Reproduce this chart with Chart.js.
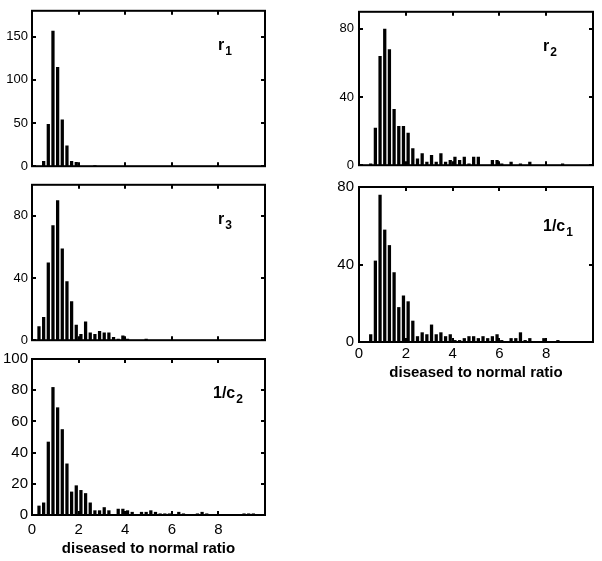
<!DOCTYPE html>
<html lang="en">
<head>
<meta charset="UTF-8">
<title>diseased to normal ratio</title>
<script src="https://cdn.jsdelivr.net/npm/chart.js"></script>
<style>
  body { margin: 0; background: #fff; width: 602px; height: 561px; position: relative; overflow: hidden; }
  .panel { position: absolute; }
</style>
</head>
<body>
<div class="panel" id="p_r1"><canvas id="c_r1"></canvas></div>
<div class="panel" id="p_r3"><canvas id="c_r3"></canvas></div>
<div class="panel" id="p_c2"><canvas id="c_c2"></canvas></div>
<div class="panel" id="p_r2"><canvas id="c_r2"></canvas></div>
<div class="panel" id="p_c1"><canvas id="c_c1"></canvas></div>
<script>
// bin centres of the histograms (bin width 0.2)
const binCenters = [0.1, 0.3, 0.5, 0.7, 0.9, 1.1, 1.3, 1.5, 1.7, 1.9,
                    2.1, 2.3, 2.5, 2.7, 2.9, 3.1, 3.3, 3.5, 3.7, 3.9,
                    4.1, 4.3, 4.5, 4.7, 4.9, 5.1, 5.3, 5.5, 5.7, 5.9,
                    6.1, 6.3, 6.5, 6.7, 6.9, 7.1, 7.3, 7.5, 7.7, 7.9,
                    8.1, 8.3, 8.5, 8.7, 8.9, 9.1, 9.3, 9.5, 9.7, 9.9];

const countsR1 = [0, 0, 6, 49, 157, 115, 54, 24, 6, 5,
                  0, 0, 0, 1, 0, 0, 0, 0, 0, 0,
                  0, 0, 0, 0, 0, 0, 0, 0, 0, 0,
                  0, 0, 0, 0, 0, 0, 0, 0, 0, 0,
                  0, 0, 0, 0, 0, 0, 0, 0, 0, 0];
const countsR3 = [0, 9, 15, 50, 74, 90, 59, 38, 25, 10,
                  4, 12, 5, 4, 6, 5, 5, 2, 1, 3,
                  1, 0, 0, 0, 1, 0, 0, 0, 0, 0,
                  0, 0, 0, 0, 0, 0, 0, 0, 0, 0,
                  0, 0, 0, 0, 0, 0, 0, 0, 0, 0];
const countsC2 = [0, 6, 8, 47, 82, 69, 55, 33, 15, 19,
                  16, 14, 8, 3, 3, 5, 3, 0, 4, 4,
                  3, 2, 0, 2, 2, 3, 2, 1, 1, 1,
                  0, 2, 1, 0, 0, 1, 2, 1, 0, 0,
                  0, 0, 0, 0, 0, 1, 1, 1, 0, 0];
const countsR2 = [0, 0, 1, 22, 64, 80, 68, 33, 23, 23,
                  19, 10, 4, 7, 2, 6, 2, 7, 2, 3,
                  5, 3, 5, 1, 5, 5, 0, 0, 3, 3,
                  1, 0, 2, 0, 1, 0, 2, 0, 0, 0,
                  0, 0, 0, 1, 0, 0, 0, 0, 0, 0];
const countsC1 = [0, 0, 4, 42, 76, 58, 50, 36, 18, 24,
                  21, 11, 3, 5, 4, 9, 4, 5, 3, 4,
                  1, 1, 2, 3, 3, 2, 3, 2, 3, 4,
                  1, 0, 2, 2, 5, 1, 2, 0, 0, 2,
                  0, 0, 1, 0, 0, 0, 0, 0, 0, 0];

const xTicks = [0, 2, 4, 6, 8];
const yTicksR1 = [0, 50, 100, 150];
const yTicksR3 = [0, 40, 80];
const yTicksC2 = [0, 20, 40, 60, 80, 100];
const yTicksR2 = [0, 40, 80];
const yTicksC1 = [0, 40, 80];

const xTitle = 'diseased to normal ratio';
const FONT = '"Liberation Sans", Arial, sans-serif';

// box around the plot, inward tick marks and the panel name
const frameTicks = {
  id: 'frameTicks',
  afterDraw(chart) {
    const {ctx, chartArea: a, scales: {x, y}} = chart;
    const o = chart.options.plugins.frameTicks;
    ctx.save();
    ctx.strokeStyle = '#000';
    ctx.lineWidth = 2;
    ctx.beginPath();
    x.ticks.forEach(t => {
      const px = Math.round(x.getPixelForValue(t.value));
      ctx.moveTo(px, a.bottom); ctx.lineTo(px, a.bottom - 4);
      ctx.moveTo(px, a.top); ctx.lineTo(px, a.top + 4);
    });
    y.ticks.forEach(t => {
      const py = Math.round(y.getPixelForValue(t.value));
      ctx.moveTo(a.left, py); ctx.lineTo(a.left + 4, py);
      ctx.moveTo(a.right, py); ctx.lineTo(a.right - 4, py);
    });
    ctx.stroke();
    ctx.strokeRect(a.left, a.top, a.right - a.left, a.bottom - a.top);

    ctx.fillStyle = '#000';
    ctx.textBaseline = 'alphabetic';
    ctx.font = 'bold 16px ' + FONT;
    ctx.fillText(o.main, a.right - o.dx, a.top + o.dy);
    const w = ctx.measureText(o.main).width;
    ctx.font = 'bold 12px ' + FONT;
    ctx.fillText(o.sub, a.right - o.dx + w + 1, a.top + o.dy + 5);
    ctx.restore();
  }
};

function makePanel(id, counts, yTicks, yMax, p) {
  const box = document.getElementById('p_' + id);
  const W = p.R - p.L + 40;
  const H = p.B - p.T + 10 + p.xH;
  box.style.left = (p.L - 32) + 'px';
  box.style.top = (p.T - 10) + 'px';
  const cv = document.getElementById('c_' + id);
  cv.width = W; cv.height = H;

  new Chart(cv, {
    type: 'bar',
    data: {
      labels: binCenters,
      datasets: [{
        data: counts,
        backgroundColor: '#000',
        borderWidth: 0,
        barPercentage: 0.7,
        categoryPercentage: 1.0
      }]
    },
    options: {
      responsive: false,
      animation: false,
      layout: { padding: { left: 0, top: 10, right: 8, bottom: 0 } },
      plugins: {
        legend: { display: false },
        tooltip: { enabled: false },
        frameTicks: p.label
      },
      scales: {
        x: {
          type: 'linear', min: 0, max: 10, offset: false,
          grid: { display: false, drawTicks: false },
          border: { display: false },
          afterBuildTicks: s => { s.ticks = xTicks.map(v => ({ value: v })); },
          afterFit: s => { s.height = p.xH; },
          ticks: { display: p.showX, padding: p.xPad, color: '#000', maxRotation: 0,
                   font: { family: FONT, size: p.tickSize } },
          title: { display: p.showX, text: xTitle, color: '#000', padding: 0,
                   font: { family: FONT, size: 15, weight: 'bold' } }
        },
        y: {
          min: 0, max: yMax,
          grid: { display: false, drawTicks: false },
          border: { display: false },
          afterBuildTicks: s => { s.ticks = yTicks.map(v => ({ value: v })); },
          afterFit: s => { s.width = 32; },
          ticks: { padding: p.yPad, color: '#000', font: { family: FONT, size: p.tickSize } }
        }
      }
    },
    plugins: [frameTicks]
  });
}

makePanel('r1', countsR1, yTicksR1, 180,
  { L: 32, R: 265, T: 9, B: 168, xH: 10, showX: false, xPad: 4, yPad: 4, tickSize: 13,
    label: { main: 'r', sub: '1', dx: 47, dy: 39 } });
makePanel('r3', countsR3, yTicksR3, 100,
  { L: 32, R: 265, T: 183, B: 342, xH: 10, showX: false, xPad: 4, yPad: 4, tickSize: 13,
    label: { main: 'r', sub: '3', dx: 47, dy: 39 } });
makePanel('c2', countsC2, yTicksC2, 100,
  { L: 32, R: 265, T: 356, B: 515, xH: 43, showX: true, xPad: 6, yPad: 4, tickSize: 15,
    label: { main: '1/c', sub: '2', dx: 52, dy: 39 } });
makePanel('r2', countsR2, yTicksR2, 90,
  { L: 359, R: 593, T: 9, B: 168, xH: 10, showX: false, xPad: 4, yPad: 5, tickSize: 13,
    label: { main: 'r', sub: '2', dx: 50, dy: 39 } });
makePanel('c1', countsC1, yTicksC1, 80,
  { L: 359, R: 593, T: 183, B: 342, xH: 40, showX: true, xPad: 3, yPad: 5, tickSize: 15,
    label: { main: '1/c', sub: '1', dx: 50, dy: 44 } });
</script>
</body>
</html>
